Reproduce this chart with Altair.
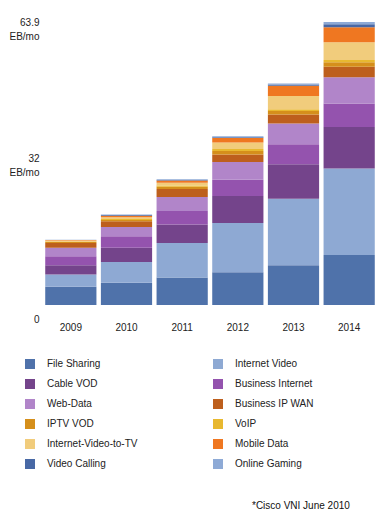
import altair as alt
import pandas as pd

years = ["2009", "2010", "2011", "2012", "2013", "2014"]

categories = [
    "File Sharing", "Internet Video", "Cable VOD", "Business Internet",
    "Web-Data", "Business IP WAN", "IPTV VOD", "VoIP",
    "Internet-Video-to-TV", "Mobile Data", "Video Calling", "Online Gaming",
]
colors = [
    "#4f72aa", "#8ea9d3", "#74448b", "#9453ae",
    "#b185c9", "#bd5f1d", "#d58f1b", "#e8b830",
    "#f1cc7c", "#ef7721", "#4868a5", "#8eaad6",
]

# EB per month
file_sharing = [4.1, 5.0, 6.2, 7.4, 9.0, 11.3]
internet_video = [2.8, 4.7, 7.8, 11.1, 15.0, 19.5]
cable_vod = [2.1, 3.2, 4.2, 6.1, 7.8, 9.4]
business_internet = [2.0, 2.6, 3.0, 3.7, 4.5, 5.3]
web_data = [1.9, 2.1, 3.2, 4.0, 4.7, 5.9]
business_ip_wan = [1.1, 1.3, 1.8, 1.7, 2.0, 2.4]
iptv_vod = [0.2, 0.3, 0.5, 0.75, 0.8, 1.0]
voip = [0.15, 0.2, 0.3, 0.45, 0.4, 0.5]
internet_video_to_tv = [0.2, 0.4, 0.6, 1.5, 3.0, 4.0]
mobile_data = [0.1, 0.35, 0.5, 1.0, 2.3, 3.4]
video_calling = [0.05, 0.15, 0.15, 0.2, 0.3, 0.7]
online_gaming = [0.05, 0.15, 0.15, 0.2, 0.2, 0.5]

series = [
    file_sharing, internet_video, cable_vod, business_internet,
    web_data, business_ip_wan, iptv_vod, voip,
    internet_video_to_tv, mobile_data, video_calling, online_gaming,
]

y_ticks = [0, 32, 63.9]
footnote = "*Cisco VNI June 2010"

rows = []
for ci, (cat, vals) in enumerate(zip(categories, series)):
    for yr, v in zip(years, vals):
        rows.append({"year": yr, "category": cat, "value": v, "order": ci})
df = pd.DataFrame(rows)

FONT = "Liberation Sans"

bars = alt.Chart(df).mark_bar().encode(
    x=alt.X("year:N", sort=years,
            scale=alt.Scale(paddingInner=0.08, paddingOuter=0.04),
            axis=alt.Axis(title=None, labelAngle=0, domain=False, ticks=False,
                          labelPadding=22, labelFontSize=10, labelFont=FONT,
                          labelColor="#222222", labelBaseline="middle")),
    y=alt.Y("value:Q", stack="zero",
            scale=alt.Scale(domain=[0, 63.9], nice=False),
            axis=alt.Axis(title=None, values=y_ticks, grid=False, domain=False,
                          ticks=False, labelPadding=4, labelFontSize=10,
                          labelFont=FONT, labelColor="#222222",
                          labelLineHeight=14, labelBaseline="middle",
                          labelOffset=alt.ExprRef("datum.value == 32 ? -5 : 0"),
                          labelExpr="datum.value == 0 ? ['', '0'] : ['' + datum.value, 'EB/mo']")),
    color=alt.Color("category:N",
                    scale=alt.Scale(domain=categories, range=colors),
                    legend=alt.Legend(title=None, orient="none", legendX=-18, legendY=337,
                                      columns=2, direction="horizontal", gridAlign="all",
                                      columnPadding=75, rowPadding=10, symbolType="square",
                                      symbolSize=100, symbolStrokeWidth=0, labelFontSize=10,
                                      labelFont=FONT, labelColor="#222222", labelOffset=12,
                                      labelLimit=200, padding=0)),
    order=alt.Order("order:Q", sort="ascending"),
)

note = alt.Chart(alt.Data(values=[{"t": footnote}])).mark_text(
    align="left", baseline="middle", fontSize=10, font=FONT, color="#111111"
).encode(
    text="t:N",
    x=alt.value(209),
    y=alt.value(484),
)

chart = alt.layer(bars, note).properties(
    width=334, height=283,
    autosize=alt.AutoSizeParams(type="none"),
    padding={"left": 35, "top": 14, "right": 5, "bottom": 212},
).configure_view(stroke=None)

chart.save("out.html", embed_options={"renderer": "svg", "actions": False})
